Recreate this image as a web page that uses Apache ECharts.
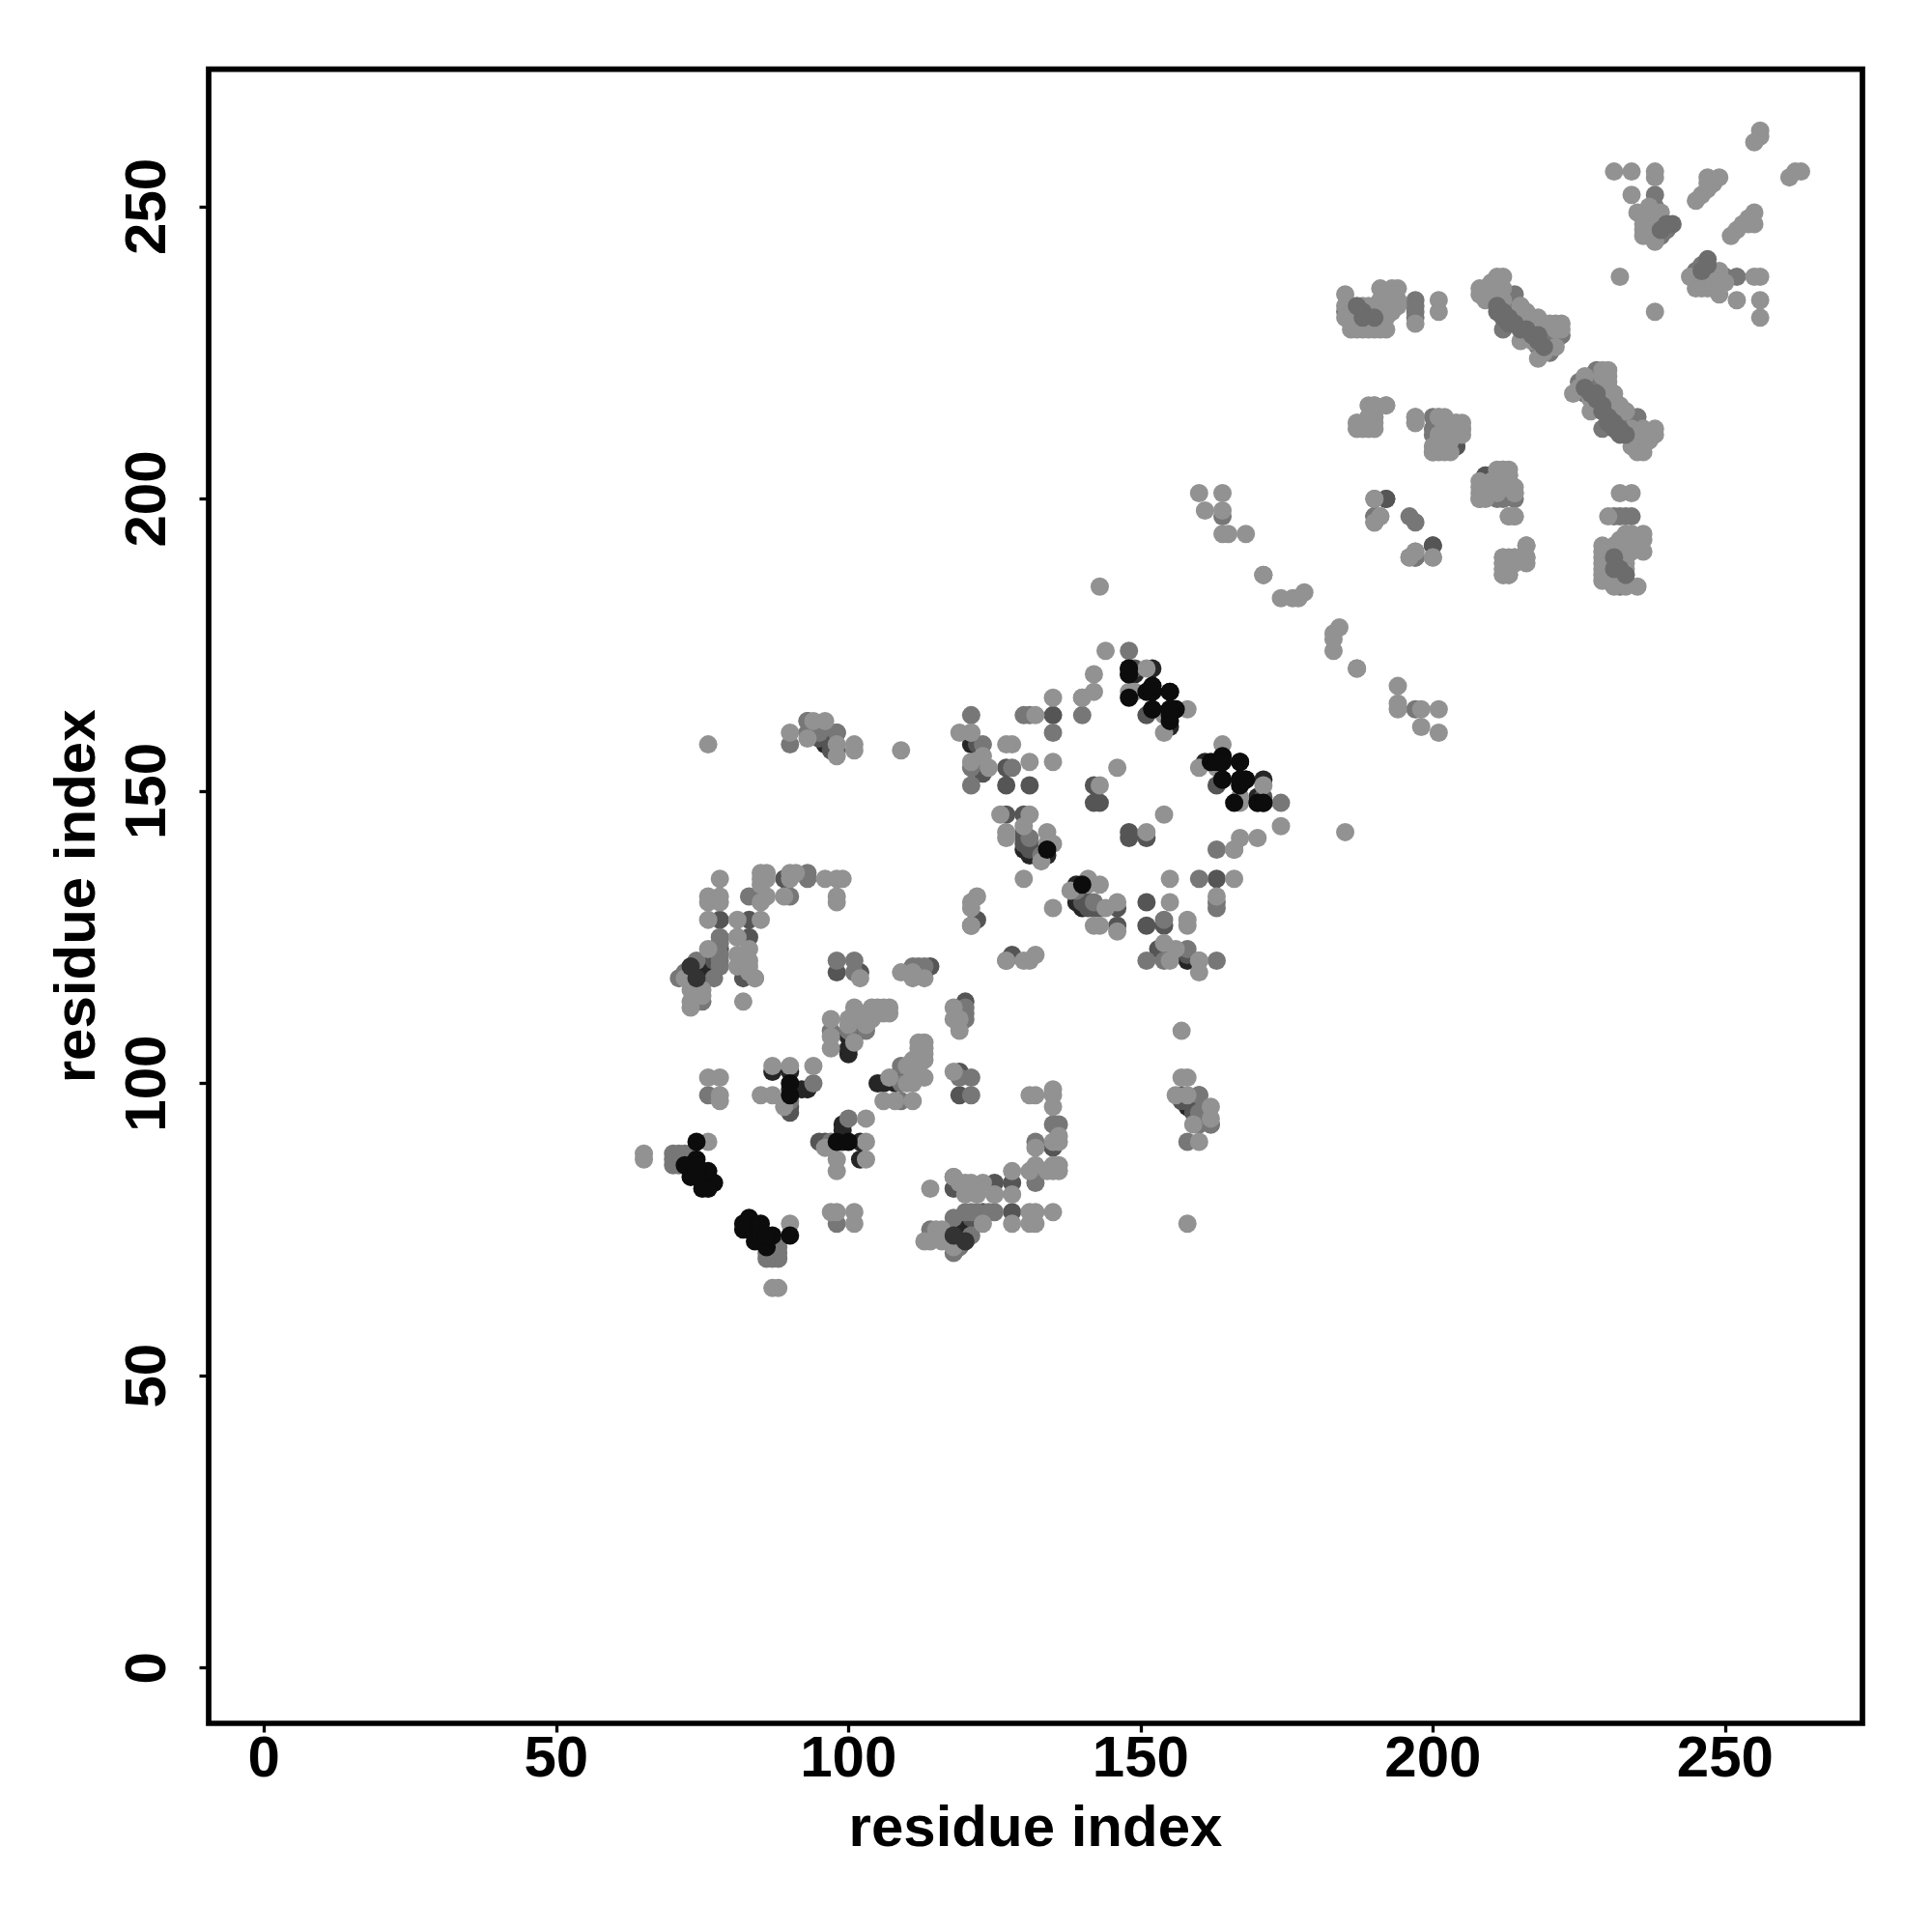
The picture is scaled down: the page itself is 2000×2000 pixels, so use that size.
<!DOCTYPE html>
<html><head><meta charset="utf-8">
<style>html,body{margin:0;padding:0;background:#fff}#c{width:2000px;height:2000px}</style>
<script src="https://cdn.jsdelivr.net/npm/echarts@6/dist/echarts.min.js"></script>
</head><body><div id="c"></div>
<script>
// Contact map: the matrix is symmetric, each pair [i,j] is drawn at (i,j) and (j,i).
const tickValues = [0, 50, 100, 150, 200, 250];
const axisTitle = 'residue index';

const contactsLight = [
 [87,65],[88,65],[90,76],
 [135,78],[135,85],[135,86],[135,90],[135,96],[135,98],[135,99],[136,85],[136,86],[136,90],[136,91],[134,85],
 [132,76],[132,78],[132,86],[132,89],[132,98],[131,76],[131,78],[131,98],[131,85],[128,76],[128,81],[128,85],
 [125,81],[123,83],[123,76],[122,81],[120,81],[120,83],[121,83],[119,83],[118,84],[114,82],[113,73],[114,73],
 [115,75],[116,73],[116,75],[118,72],
 [119,109],[119,111],[118,111],[118,113],[118,102],
 [111,97],[106,97],[108,97],[112,101],[111,101],[107,101],[113,101],[113,104],[113,105],[113,106],[113,107],
 [111,104],[110,100],[111,102],[112,103],[112,104],[112,105],[112,106],[112,107],[111,100],[110,103],
 [103,87],[103,90],[103,94],[98,85],[98,87],[96,89],[101,76],[101,78],[98,78],[97,78],
 [158,76],[160,90],[162,94],[162,96],[159,93],[158,98],[156,98],[158,101],[157,101],[157,109],
 [174,144],[171,151],[167,148],[167,149],[163,154],[160,154],[164,158],[170,142],[167,142],[166,140],
 [166,135],[163,132],[158,128],[155,131],[155,135],[154,124],[154,146],[151,143],[146,131],[146,126],[143,127],[142,127],
 [185,143],[160,121],[160,119],[158,127],[155,121],[156,123],[144,130],[143,134],[141,135],[141,134],[138,133],
 [132,122],[131,121],[127,121],[130,121],[135,130],
 [201,160],[201,164],[198,161],[198,164],[194,164],[194,165],[194,168],[187,171],[183,174],[183,176],[183,177],[184,178],
 [200,190],[197,191],[196,190],[191,197],
 [256,231],[256,234],[256,238],[255,238],[252,234],[249,235],[248,236],[246,236],[249,239],[245,236],[245,237],[247,236],[244,238],
 [246,237],[246,238],[247,237],[247,238],[248,237],[249,237],[249,238],[250,237],
 [251,245],[252,246],[253,247],[254,247],[254,248],[255,247],[255,249],[263,256],[262,256],[261,255],[238,232],
 [235,185],[233,185],[231,185],[229,186],[229,188],[229,190],[229,192],[230,187],[233,190],[230,191],[231,192],[233,192],[234,191],
 [236,191],[236,193],[236,194],[235,193],[234,194],[233,194],[232,193],[235,192],[230,186],[230,197],[234,201],[232,201],
 [232,186],[232,187],[231,186],[231,187],[230,188],[230,189],[230,190],[231,189],[232,189],[232,190],[233,188],[233,189],[232,191],[232,192],[231,191],[229,187],[229,189],[229,191],[234,192],[234,193],[233,193],[233,186],
 [238,211],[238,212],[237,210],[236,208],[235,208],[232,216],[233,215],[227,215],[231,218],[224,218],[230,221],[229,222],[234,212],[236,212],[235,211],[230,222],
 [237,211],[236,210],[236,209],[235,210],[234,209],[233,215],[231,217],[229,221],[225,219],[226,221],[230,220],[227,217],
 [216,189],[216,190],[216,192],[214,189],[213,187],[212,187],[212,188],[212,190],[212,189],[214,190],
 [214,197],[213,197],[214,201],[214,202],[209,200],[208,200],[213,202],[213,204],[212,205],[208,201],[208,203],[211,203],[210,202],[212,203],[213,205],[211,204],
 [205,211],[205,212],[202,208],[200,208],[201,214],[204,213],[201,211],[201,209],[197,213],[197,214],[203,213],[203,210],[202,211],
 [192,216],[190,216],[190,214],[189,212],[187,212],[187,213],[188,212],[190,213],[189,214],[190,212]
];
const contactsMid = [
 [87,70],[88,70],[86,70],[88,72],[87,71],[86,71],[88,71],[85,75],
 [135,93],[136,93],[132,83],[132,90],[125,78],[122,78],[121,78],[120,78],[121,74],[119,72],[118,77],[114,75],[118,71],[118,84],
 [123,77],[124,78],[125,81],
 [121,98],[121,101],[120,111],[120,112],[120,113],[119,101],
 [109,97],[109,100],[110,103],[103,109],[98,76],[97,90],[100,94],
 [158,90],[162,93],[160,93],[160,95],[160,98],[162,93],
 [174,148],[166,140],[163,140],[160,135],[163,131],[154,128],[158,123],[151,121],[154,121],[163,121],[160,121],[142,131],[139,133],[163,130],[127,121],
 [197,164],[187,171],[197,190],[200,190],[197,190],[197,196],
 [252,238],[250,238],[248,238],[245,238],[245,239],[246,240],[247,239],
 [232,185],[234,197],[232,197],[231,197],[233,197],
 [235,209],[235,214],[225,220],[232,214],[227,221],[229,212],[228,222],
 [234,210],[234,211],[233,212],[233,213],[232,213],[231,215],[230,215],[228,216],[226,218],[226,220],[229,218],[229,219],[230,219],[231,216],[228,220],[228,221],
 [211,200],[212,200],[214,200],[197,190],[190,196]
];
const contactsDark = [
 [135,89],[128,78],[128,83],[125,83],[123,78],[118,82],[121,77],
 [119,98],[119,102],[120,114],[96,90],[95,90],
 [159,95],[157,97],[157,98],[158,97],[160,98],
 [171,149],[163,151],[171,148],[163,135],[154,127],[151,127],[151,131],[154,123],[153,123],
 [148,142],[151,142],[146,127],[146,130],[158,122],[143,130],[141,130],[142,130],[140,131],[140,133],
 [128,122],[148,143],
 [200,192],
 [228,219],[230,216],[229,217],
 [204,209],[209,204],[192,200]
];
const contactsDeep = [
 [132,85],[120,76],[119,74],[118,75],[120,75],[158,96],
 [119,113],[105,100],[108,101],[106,100],[108,100],
 [102,87],[102,90],[99,90],[98,90],[99,93],[92,99],
 [164,156],[161,155],[171,148],[171,152],[170,148],[170,149],
 [158,121],[154,123],[139,131],[140,130],[140,134],[139,134]
];
// Marks that sit above the light discs in the reference.
const contactsOverGrey = [
 [233,211],[232,212],[232,211],[231,212],[231,213],[230,213],[230,214],[229,215],[229,216],[228,217],[228,218],[227,218],[226,219],
 [232,188],[231,188],[233,187],[231,190],[247,241],[247,240],[246,239]
];
const contactsOverDark = [
 [120,73],[118,74]
];
const contactsBlack = [
 [83,77],[82,75],[83,75],[85,76],[87,74],[84,73],[86,72],[82,76],[85,74],[86,74],[90,74],
 [168,152],[167,151],[167,152],[167,155],[164,152],[164,155],[164,156],[162,155],[155,163],[155,164],[155,167],[152,164],[152,167],[152,168],
 [148,166],[170,148],[171,148],[140,134],[90,98],[90,100]
];

const greys = ['#262626','#555555','#777777','#929292','#6c6c6c','#333333','#0c0c0c'];
const layers = [contactsDeep, contactsDark, contactsMid, contactsLight, contactsOverGrey, contactsOverDark, contactsBlack];

function mirrored(pairs){
  const out = [];
  pairs.forEach(p => { out.push([p[0],p[1]]); out.push([p[1],p[0]]); });
  return out;
}
function axis(extra){
  return Object.assign({
    type:'value', min:-9.47, max:273.5, splitLine:{show:false},
    axisLine:{show:false, onZero:false},
    axisTick:{show:true, length:9.5, lineStyle:{color:'#000', width:3.3}, customValues:tickValues},
    name:axisTitle, nameLocation:'middle',
    nameTextStyle:{fontFamily:'Liberation Sans', fontWeight:'bold', fontSize:60, color:'#000'}
  }, extra);
}
const chart = echarts.init(document.getElementById('c'), null, {renderer:'canvas', width:2000, height:2000});
chart.setOption({
  animation:false, backgroundColor:'#fff',
  grid:{left:216, right:72, top:71.7, bottom:216, show:true, borderColor:'#000', borderWidth:5.7, backgroundColor:'transparent'},
  xAxis:axis({
    nameGap:80,
    axisLabel:{customValues:tickValues, margin:8, fontFamily:'Liberation Sans', fontWeight:'bold', fontSize:60, color:'#000'}
  }),
  yAxis:axis({
    nameGap:105, nameRotate:90,
    axisLabel:{customValues:tickValues, rotate:90, margin:32, fontFamily:'Liberation Sans', fontWeight:'bold', fontSize:60, color:'#000'}
  }),
  series:layers.map((pairs,i)=>({
    type:'scatter', data:mirrored(pairs), symbol:'circle', symbolSize:19,
    itemStyle:{color:greys[i], opacity:1}, z:2+i, silent:true
  }))
});
</script></body></html>
